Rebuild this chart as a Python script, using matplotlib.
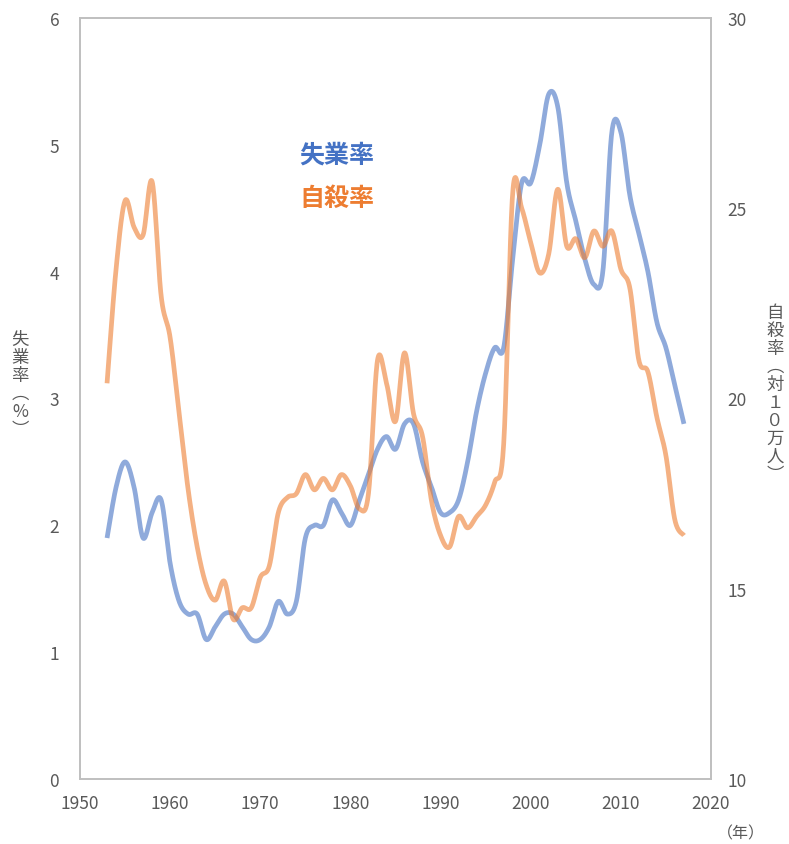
import matplotlib

matplotlib.use("Agg")
import matplotlib.pyplot as plt
import numpy as np

plt.rcParams["font.family"] = ["Noto Sans CJK JP", "DejaVu Sans"]

YEARS = list(range(1953, 2018))

# 完全失業率 (%)
UNEMPLOYMENT = [
    1.9, 2.3, 2.5, 2.3, 1.9, 2.1, 2.2, 1.7, 1.4, 1.3,
    1.3, 1.1, 1.2, 1.3, 1.3, 1.2, 1.1, 1.1, 1.2, 1.4,
    1.3, 1.4, 1.9, 2.0, 2.0, 2.2, 2.1, 2.0, 2.2, 2.4,
    2.6, 2.7, 2.6, 2.8, 2.8, 2.5, 2.3, 2.1, 2.1, 2.2,
    2.5, 2.9, 3.2, 3.4, 3.4, 4.1, 4.7, 4.7, 5.0, 5.4,
    5.3, 4.7, 4.4, 4.1, 3.9, 4.0, 5.1, 5.1, 4.6, 4.3,
    4.0, 3.6, 3.4, 3.1, 2.8,
]

# 自殺率 (人口10万人あたり)
SUICIDE = [
    20.4, 23.4, 25.2, 24.5, 24.3, 25.7, 22.7, 21.6, 19.6, 17.6,
    16.1, 15.1, 14.7, 15.2, 14.2, 14.5, 14.5, 15.3, 15.6, 17.0,
    17.4, 17.5, 18.0, 17.6, 17.9, 17.6, 18.0, 17.7, 17.1, 17.5,
    21.0, 20.4, 19.4, 21.2, 19.6, 19.0, 17.3, 16.4, 16.1, 16.9,
    16.6, 16.9, 17.2, 17.8, 18.8, 25.4, 25.0, 24.1, 23.3, 23.8,
    25.5, 24.0, 24.2, 23.7, 24.4, 24.0, 24.4, 23.4, 22.9, 21.0,
    20.7, 19.5, 18.5, 16.8, 16.4,
]

X_TICKS = [1950, 1960, 1970, 1980, 1990, 2000, 2010, 2020]
LEFT_TICKS = [0, 1, 2, 3, 4, 5, 6]
RIGHT_TICKS = [10, 15, 20, 25, 30]

BLUE = "#4472C4"
ORANGE = "#ED7D31"
GREY = "#595959"


def smooth(x, y, n=20):
    """Excel-style smoothed line: cubic Bezier through the points (tension 1/6)."""
    p = np.column_stack([x, y]).astype(float)
    p = np.vstack([p[0], p, p[-1]])
    t = np.linspace(0, 1, n, endpoint=False)[:, None]
    out = []
    for i in range(1, len(p) - 2):
        p0, p1, p2, p3 = p[i - 1], p[i], p[i + 1], p[i + 2]
        c1 = p1 + (p2 - p0) / 6
        c2 = p2 - (p3 - p1) / 6
        seg = ((1 - t) ** 3 * p1 + 3 * (1 - t) ** 2 * t * c1
               + 3 * (1 - t) * t ** 2 * c2 + t ** 3 * p2)
        out.append(seg)
    out.append(p[-2][None, :])
    out = np.vstack(out)
    return out[:, 0], out[:, 1]


W, H = 789, 845
fig = plt.figure(figsize=(W / 100, H / 100), dpi=100)
ax = fig.add_axes([80 / W, (H - 780) / H, (711 - 80) / W, (780 - 19) / H])
ax2 = ax.twinx()

sx, sy = smooth(YEARS, UNEMPLOYMENT)
ax.plot(sx, sy, color=BLUE, alpha=0.6, lw=3.4, solid_capstyle="butt")
sx, sy = smooth(YEARS, SUICIDE)
ax2.plot(sx, sy, color=ORANGE, alpha=0.6, lw=3.4, solid_capstyle="butt")

ax.set_xlim(1950, 2020)
ax.set_ylim(0, 6)
ax2.set_ylim(10, 30)
ax.set_xticks(X_TICKS)
ax.set_yticks(LEFT_TICKS)
ax2.set_yticks(RIGHT_TICKS)

for a in (ax, ax2):
    for s in a.spines.values():
        s.set_color("#BFBFBF")
        s.set_linewidth(1.2)
    a.tick_params(length=0, labelsize=12.5, colors=GREY)
ax.tick_params(axis="y", pad=15)
ax.tick_params(axis="x", pad=11)
ax2.tick_params(axis="y", pad=12)

# 縦書きの軸ラベル
fig.text(20 / W, 1 - 385 / H, "失\n業\n率\n︵\n%\n︶", ha="center", va="center",
         fontsize=12.5, color=GREY, linespacing=1.0)
fig.text(775 / W, 1 - 394 / H, "自\n殺\n率\n︵\n対\n１\n０\n万\n人\n︶", ha="center",
         va="center", fontsize=12.5, color=GREY, linespacing=1.0)
fig.text(741 / W, 1 - 834 / H, "（年）", ha="center", va="center",
         fontsize=11.5, color=GREY)

fig.text(337 / W, 1 - 156 / H, "失業率", ha="center", va="center",
         fontsize=18, fontweight="bold", color=BLUE)
fig.text(337 / W, 1 - 199 / H, "自殺率", ha="center", va="center",
         fontsize=18, fontweight="bold", color=ORANGE)

fig.savefig("out.png", dpi=100)
